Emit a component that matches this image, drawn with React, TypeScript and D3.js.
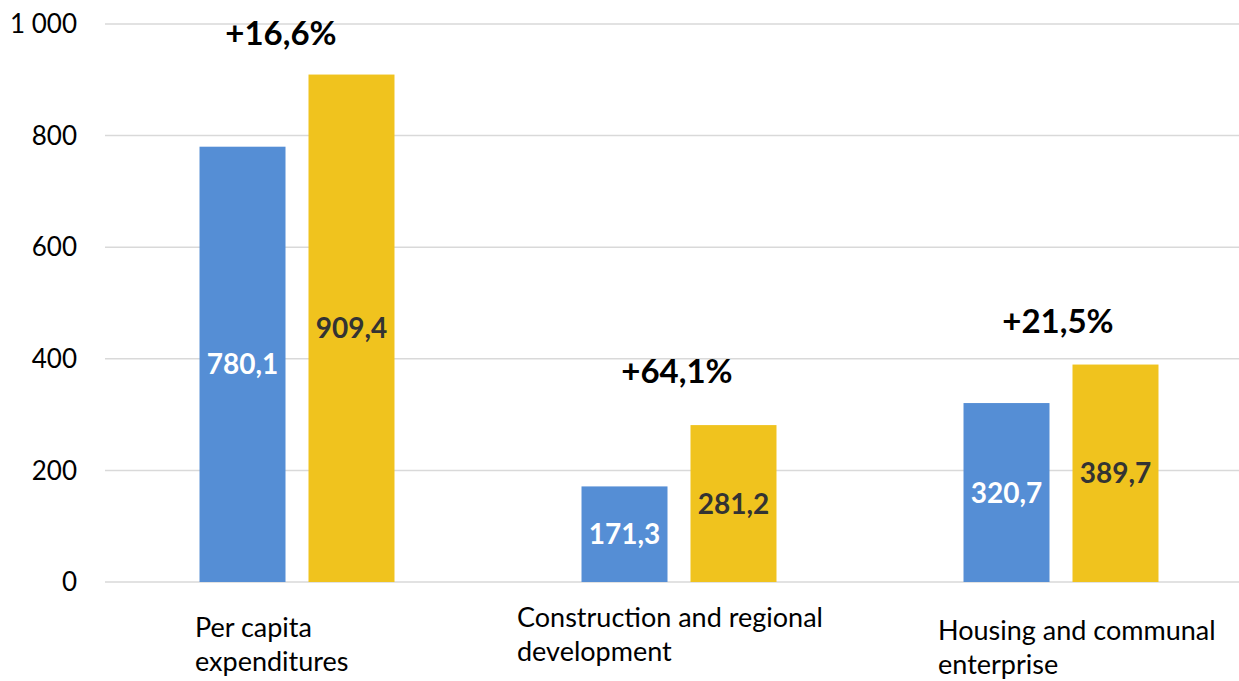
import React, { useEffect, useRef } from 'react';
import * as d3 from 'd3';

const categories = ['Per capita expenditures', 'Construction and regional development', 'Housing and communal enterprise'];
const labelLines = [['Per capita', 'expenditures'], ['Construction and regional', 'development'], ['Housing and communal', 'enterprise']];
const seriesKeys = ['before', 'after'];
const beforeValues = [780.1, 171.3, 320.7];
const afterValues = [909.4, 281.2, 389.7];
const growthLabels = ['+16,6%', '+64,1%', '+21,5%'];
const yTicks = [0, 200, 400, 600, 800, 1000];

// hand-placed text boxes, as in the original slide
const labelOffsets = [[-102, 637], [-162, 627], [-123, 640]];
const growthOffsets = [[-16, 30], [-2, 42], [-3, 32]];

const W = 1239, H = 681;
const margin = { top: 24, right: -13, bottom: 99, left: 106 };
const colors = { before: '#558ED5', after: '#F0C31E' };
const font = 'Lato, "Open Sans", sans-serif';

const fmt = (v: number) => v.toFixed(1).replace('.', ',');
const fmtTick = (v: number) => (v >= 1000 ? d3.format(',')(v).replace(',', ' ') : String(v));

export default function App() {
  const ref = useRef<SVGSVGElement>(null);

  useEffect(() => {
    const svg = d3.select(ref.current);
    svg.selectAll('*').remove();

    const x0 = d3.scaleBand().domain(categories).range([margin.left, W - margin.right]).padding(0);
    const x1 = d3.scaleBand().domain(seriesKeys).range([0, x0.bandwidth()]).paddingInner(0.211).paddingOuter(0.858);
    const y = d3.scaleLinear().domain([0, 1000]).range([H - margin.bottom, margin.top]);

    // gridlines
    svg.append('g').selectAll('line').data(yTicks).enter().append('line')
      .attr('x1', margin.left - 1).attr('x2', W - margin.right)
      .attr('y1', d => y(d)).attr('y2', d => y(d))
      .attr('stroke', '#d9d9d9').attr('stroke-width', 1.5);

    svg.append('g').selectAll('text').data(yTicks).enter().append('text')
      .attr('x', 77).attr('y', d => y(d)).attr('dy', '0.35em')
      .attr('text-anchor', 'end').attr('font-family', font).attr('font-size', 26).attr('fill', '#000')
      .text(d => fmtTick(d));

    const rows = categories.map((c, i) => ({ c, i, before: beforeValues[i], after: afterValues[i] }));

    const groups = svg.append('g').selectAll('g').data(rows).enter().append('g')
      .attr('transform', d => 'translate(' + x0(d.c) + ',0)');

    seriesKeys.forEach(k => {
      groups.append('rect')
        .attr('x', x1(k)!)
        .attr('width', x1.bandwidth())
        .attr('y', d => y((d as any)[k]))
        .attr('height', d => y(0) - y((d as any)[k]))
        .attr('fill', (colors as any)[k]);

      groups.append('text')
        .attr('x', x1(k)! + x1.bandwidth() / 2)
        .attr('y', d => (y((d as any)[k]) + y(0)) / 2)
        .attr('dy', '0.36em')
        .attr('text-anchor', 'middle')
        .attr('font-family', font).attr('font-weight', 'bold').attr('font-size', 28)
        .attr('fill', k === 'before' ? '#ffffff' : '#333333')
        .text(d => fmt((d as any)[k]));
    });

    // growth labels
    groups.append('text')
      .attr('x', d => x0.bandwidth() / 2 + growthOffsets[d.i][0])
      .attr('y', d => y(d.after) - growthOffsets[d.i][1])
      .attr('text-anchor', 'middle')
      .attr('font-family', font).attr('font-weight', 'bold').attr('font-size', 33).attr('fill', '#000')
      .text(d => growthLabels[d.i]);

    // category labels
    const lab = groups.append('text')
      .attr('font-family', font).attr('font-size', 27).attr('fill', '#000');
    lab.each(function (d) {
      const t = d3.select(this);
      labelLines[d.i].forEach((line, j) => {
        t.append('tspan')
          .attr('x', x0.bandwidth() / 2 + labelOffsets[d.i][0])
          .attr('y', labelOffsets[d.i][1] + j * 34)
          .text(line);
      });
    });
  }, []);

  return (
    <svg ref={ref} width={W} height={H} style={{ position: 'absolute', left: 0, top: 0, background: '#fff' }} />
  );
}
